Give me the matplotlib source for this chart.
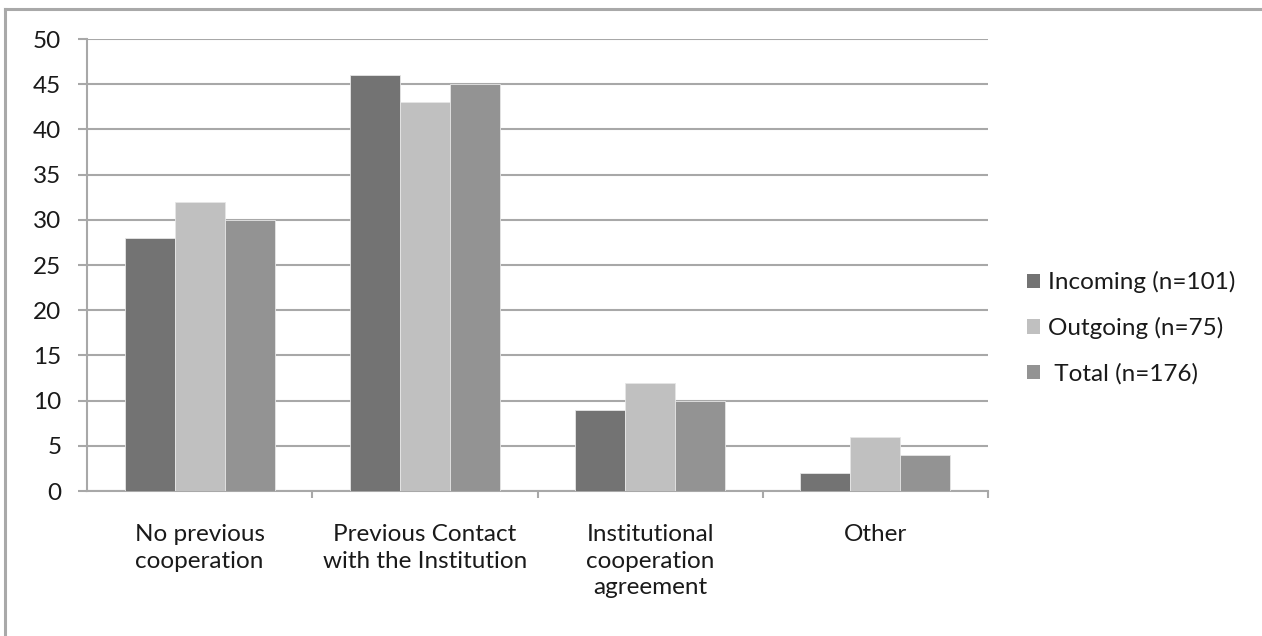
import matplotlib
matplotlib.use("Agg")
import matplotlib.pyplot as plt
from matplotlib.lines import Line2D
import numpy as np

categories = ["No previous\ncooperation",
              "Previous Contact\nwith the Institution",
              "Institutional\ncooperation\nagreement",
              "Other"]
series_names = ["Incoming (n=101)", "Outgoing (n=75)", " Total (n=176)"]
incoming = [28, 46, 9, 2]
outgoing = [32, 43, 12, 6]
total = [30, 45, 10, 4]
y_ticks = [0, 5, 10, 15, 20, 25, 30, 35, 40, 45, 50]

colors = ["#737373", "#c0c0c0", "#939393"]
grid_col = "#a8a8a8"
text_col = "#1a1a1a"
fs = 17.5

plt.rcParams["font.family"] = ["Lato", "DejaVu Sans"]

fig = plt.figure(figsize=(12.62, 6.36), dpi=100)
ax = fig.add_axes([87 / 1262, 1 - 491 / 636, (988 - 87) / 1262, (491 - 39) / 636])

x = np.arange(len(categories))
w = 0.222
for i, (vals, name, c) in enumerate(zip([incoming, outgoing, total], series_names, colors)):
    ax.bar(x + (i - 1) * w, vals, width=w, color=c, edgecolor="#e6e6e6",
           linewidth=0.6, label=name, zorder=3)

ax.set_xlim(-0.5, len(categories) - 0.5)
ax.set_ylim(0, 50)
ax.set_yticks(y_ticks)
ax.yaxis.grid(True, color=grid_col, linewidth=1.5, zorder=0)
ax.set_axisbelow(True)

for s in ["top", "right"]:
    ax.spines[s].set_visible(False)
for s in ["left", "bottom"]:
    ax.spines[s].set_color(grid_col)
    ax.spines[s].set_linewidth(1.5)

ax.tick_params(axis="y", length=6.5, width=1.5, color=grid_col, pad=12,
               labelsize=fs, labelcolor=text_col)
ax.set_xticks(x)
ax.set_xticklabels(categories, linespacing=1.32)
ax.set_xticks(np.arange(len(categories)) + 0.5, minor=True)
ax.tick_params(axis="x", which="major", length=0, pad=24, labelsize=fs,
               labelcolor=text_col)
ax.tick_params(axis="x", which="minor", length=5, width=1.5, color=grid_col)

leg = ax.legend(loc="center left", bbox_to_anchor=(1005 / 1262, 1 - 328 / 636),
                bbox_transform=fig.transFigure, frameon=False, fontsize=fs,
                handlelength=0.55, handleheight=0.55, handletextpad=0.3,
                labelspacing=0.98, labelcolor=text_col)
for h in leg.legend_handles:
    h.set_linewidth(0)

# frame lines along the top and left of the figure
fig.add_artist(Line2D([5 / 1262, 1], [1 - 8.5 / 636, 1 - 8.5 / 636],
                      transform=fig.transFigure, color="#a9a9a9", linewidth=2.2))
fig.add_artist(Line2D([5 / 1262, 5 / 1262], [0, 1 - 8.5 / 636],
                      transform=fig.transFigure, color="#a9a9a9", linewidth=2.2))

fig.savefig("out.png", dpi=100, facecolor="white")
